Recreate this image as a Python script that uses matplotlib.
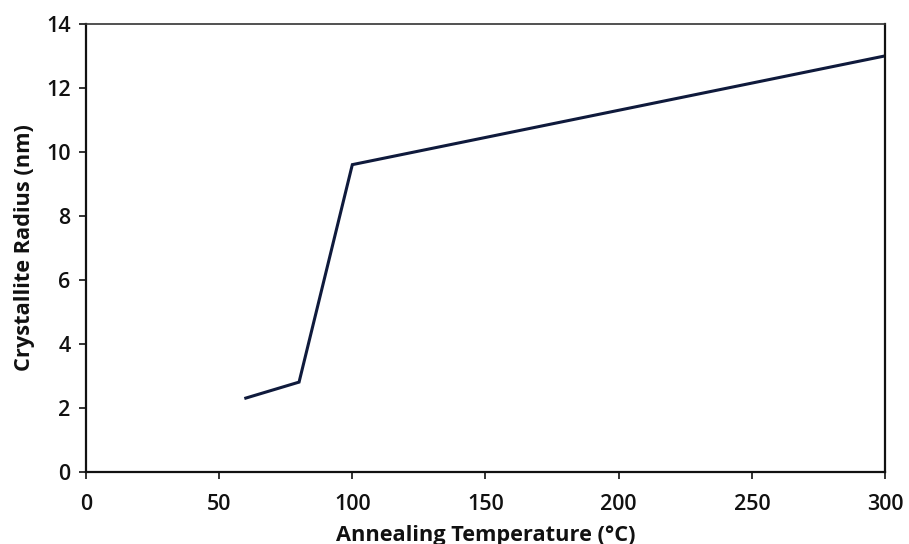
import matplotlib.pyplot as plt

# annealing temperature (C) vs crystallite radius (nm)
temps = [60, 80, 100, 300]
radius = [2.3, 2.8, 9.6, 13.0]

x_ticks = [0, 50, 100, 150, 200, 250, 300]
y_ticks = [0, 2, 4, 6, 8, 10, 12, 14]

plt.rcParams['font.family'] = ['Open Sans', 'DejaVu Sans']

fig = plt.figure(figsize=(9.09, 5.44), dpi=100)
ax = fig.add_axes([0.0946, 0.133, 0.879, 0.823])

ax.plot(temps, radius, color='#0f1a3c', linewidth=2.2, solid_joinstyle='miter')

ax.set_xlim(0, 300)
ax.set_ylim(0, 14)
ax.set_xticks(x_ticks)
ax.set_yticks(y_ticks)
ax.tick_params(axis='both', direction='out', length=5, width=1.2,
               labelsize=15.5, colors='#111111')
ax.tick_params(axis='x', pad=11)
ax.tick_params(axis='y', pad=6)
for lbl in ax.get_xticklabels() + ax.get_yticklabels():
    lbl.set_fontweight('semibold')

for side in ['left', 'bottom', 'right']:
    ax.spines[side].set_linewidth(1.6)
    ax.spines[side].set_color('#111111')
ax.spines['top'].set_linewidth(1.2)
ax.spines['top'].set_color('#333333')

ax.set_xlabel('Annealing Temperature (°C)', fontsize=15.7, fontweight='bold',
              labelpad=7, color='#111111')
ax.set_ylabel('Crystallite Radius (nm)', fontsize=15.7, fontweight='bold',
              labelpad=8, color='#111111')

fig.savefig('out.png', dpi=100)
